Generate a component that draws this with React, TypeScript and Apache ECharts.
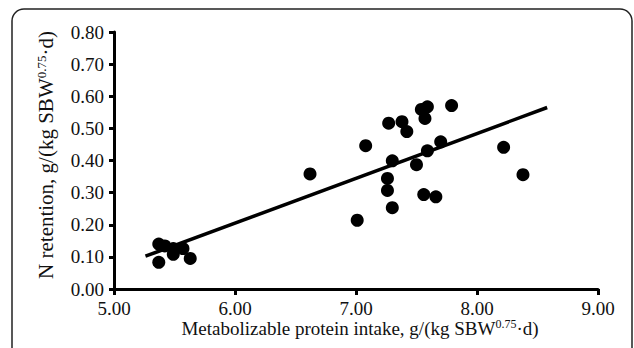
import React, { useEffect, useRef } from "react";
import * as echarts from "echarts";

const mpIntake = [5.37, 5.42, 5.49, 5.49, 5.57, 5.63, 5.37, 6.62, 7.01, 7.08, 7.27, 7.38, 7.42, 7.54, 7.59, 7.57, 7.79, 7.70, 7.59, 7.30, 7.50, 7.26, 7.26, 7.56, 7.66, 7.30, 8.22, 8.38];
const nRetention = [0.14, 0.134, 0.126, 0.108, 0.126, 0.095, 0.083, 0.358, 0.214, 0.446, 0.516, 0.521, 0.49, 0.559, 0.567, 0.531, 0.571, 0.458, 0.43, 0.399, 0.387, 0.344, 0.307, 0.294, 0.287, 0.253, 0.441, 0.356];
const fitX = [5.26, 8.58];
const fitY = [0.102, 0.565];

const xTitle = "Metabolizable protein intake, g/(kg SBW";
const yTitle = "N retention, g/(kg SBW";
const supText = "0.75";
const tailText = "·d)";

const FONT = '"Liberation Serif", "Times New Roman", serif';

export default function App() {
  const ref = useRef<HTMLDivElement>(null);
  useEffect(() => {
    if (!ref.current) return;
    const chart = echarts.init(ref.current, undefined, { renderer: "svg" });
    const richX = {
      n: { fontSize: 19, fontFamily: FONT, fill: "#111", color: "#111" },
      s: { fontSize: 12, fontFamily: FONT, fill: "#111", color: "#111", padding: [0, 0, 9, 0] },
    };
    const richY = {
      n: { fontSize: 21, fontFamily: FONT, fill: "#111", color: "#111" },
      s: { fontSize: 13, fontFamily: FONT, fill: "#111", color: "#111", padding: [0, 0, 10, 0] },
    };
    chart.setOption({
      animation: false,
      grid: { left: 114, right: 36, top: 32, bottom: 59 },
      xAxis: {
        type: "value",
        min: 5,
        max: 9,
        interval: 1,
        splitLine: { show: false },
        axisLine: { lineStyle: { color: "#000", width: 3 } },
        axisTick: { length: 6, lineStyle: { color: "#000", width: 3 } },
        axisLabel: {
          margin: 10,
          color: "#111",
          fontSize: 19,
          fontFamily: FONT,
          formatter: (v: number) => v.toFixed(2),
        },
      },
      yAxis: {
        type: "value",
        min: 0,
        max: 0.8,
        interval: 0.1,
        splitLine: { show: false },
        axisLine: { show: true, lineStyle: { color: "#000", width: 3 } },
        axisTick: { show: true, length: 5, lineStyle: { color: "#000", width: 3 } },
        axisLabel: {
          margin: 10,
          color: "#111",
          fontSize: 19,
          fontFamily: FONT,
          formatter: (v: number) => v.toFixed(2),
        },
      },
      series: [
        {
          type: "scatter",
          data: mpIntake.map((x, i) => [x, nRetention[i]]),
          symbolSize: 13,
          itemStyle: { color: "#000", opacity: 1 },
        },
        {
          type: "line",
          data: fitX.map((x, i) => [x, fitY[i]]),
          symbol: "none",
          lineStyle: { color: "#000", width: 3.5 },
        },
      ],
      graphic: [
        {
          type: "rect",
          shape: { x: 12, y: 9, width: 620, height: 380, r: 12 },
          style: { fill: "none", stroke: "#222", lineWidth: 1.5 },
          silent: true,
        },
        {
          type: "text",
          x: 360,
          y: 328,
          style: {
            text: `{n|${xTitle}}{s|${supText}}{n|${tailText}}`,
            rich: richX,
            align: "center",
            verticalAlign: "middle",
          },
        },
        {
          type: "text",
          x: 46,
          y: 155,
          rotation: Math.PI / 2,
          style: {
            text: `{n|${yTitle}}{s|${supText}}{n|${tailText}}`,
            rich: richY,
            align: "center",
            verticalAlign: "middle",
          },
        },
      ],
    });
    return () => chart.dispose();
  }, []);
  return <div ref={ref} style={{ width: 634, height: 348, position: "absolute", left: 0, top: 0 }} />;
}
